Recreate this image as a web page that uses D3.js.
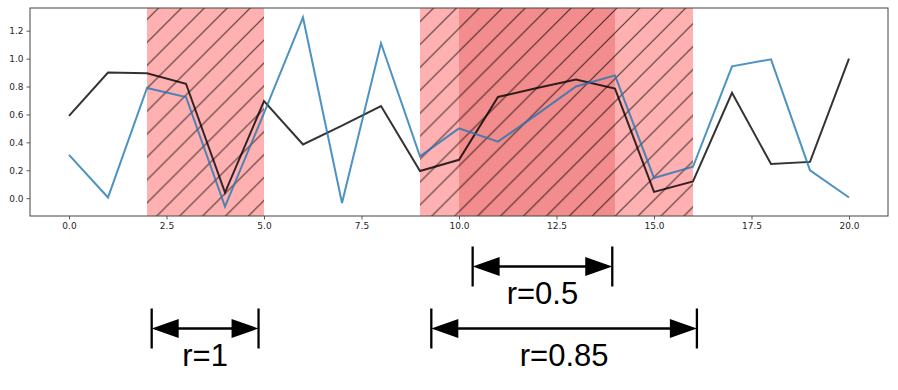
<!DOCTYPE html>
<html>
<head>
<meta charset="utf-8">
<script src="https://cdn.jsdelivr.net/npm/d3@7"></script>
<style>
body { margin: 0; background: #fff; }
</style>
</head>
<body>
<div class="chart"></div>
<script>

// data
const xs     = [0, 1, 2, 3, 4, 5, 6, 7, 8, 9, 10, 11, 12, 13, 14, 15, 16, 17, 18, 19, 20]
const blue   = [0.31, 0.005, 0.79, 0.725, -0.06, 0.61, 1.295, -0.035, 1.11, 0.30, 0.50,
                0.405, 0.60, 0.80, 0.88, 0.145, 0.225, 0.945, 0.995, 0.20, 0.005]
const black  = [0.59, 0.90, 0.895, 0.82, 0.04, 0.695, 0.385, 0.52, 0.66, 0.195, 0.275,
                0.725, 0.79, 0.85, 0.785, 0.045, 0.12, 0.755, 0.245, 0.26, 1.0]

// shaded windows (x units)
const spanStart = [2, 9]
const spanEnd   = [5, 16]
const innerStart = [10]
const innerEnd   = [14]

const xTicks = [0, 2.5, 5, 7.5, 10, 12.5, 15, 17.5, 20]
const yTicks = [0, 0.2, 0.4, 0.6, 0.8, 1.0, 1.2]

// arrows under the axis
const annoLabel = ["r=1", "r=0.5", "r=0.85"]
const annoFrom  = [2.12, 10.35, 9.29]
const annoTo    = [4.86, 13.93, 16.1]
const annoRow   = [1, 0, 1]

var margin = {top: 8, right: 10, bottom: 174, left: 30},
    width = 898 - margin.left - margin.right,
    height = 390 - margin.top - margin.bottom;

var svg = d3.select(".chart")
  .append("svg")
  .attr("width", 898)
  .attr("height", 390)
  .append("g")
  .attr("transform", "translate(" + margin.left + "," + margin.top + ")");

var x = d3.scaleLinear().domain([-1, 21]).range([0, width])

// matplotlib style 5% padding
var lo = d3.min(blue.concat(black)), hi = d3.max(blue.concat(black))
var pad = (hi - lo) * 0.05
var y = d3.scaleLinear().domain([lo - pad, hi + pad]).range([height, 0])

// hatch pattern, anchored to the page
var step = 22.92
var defs = svg.append("defs")
var pat = defs.append("pattern")
  .attr("id", "hatch")
  .attr("patternUnits", "userSpaceOnUse")
  .attr("x", 6.1 - margin.left - margin.top)
  .attr("y", 0)
  .attr("width", step)
  .attr("height", step)
pat.append("path")
  .attr("d", "M0," + step + "L" + step + ",0M-2,2L2,-2M" + (step - 2) + "," + (step + 2) + "L" + (step + 2) + "," + (step - 2))
  .attr("stroke", "#000")
  .attr("stroke-opacity", 0.75)
  .attr("stroke-width", 1)

var spans = spanStart.map((s, i) => ({a: s, b: spanEnd[i]}))
var inner = innerStart.map((s, i) => ({a: s, b: innerEnd[i]}))

svg.selectAll("spanRects")
  .data(spans)
  .enter()
  .append("rect")
    .attr("x", d => x(d.a))
    .attr("width", d => x(d.b) - x(d.a))
    .attr("y", 0)
    .attr("height", height)
    .style("fill", "#ffb1b1")

svg.selectAll("innerRects")
  .data(inner)
  .enter()
  .append("rect")
    .attr("x", d => x(d.a))
    .attr("width", d => x(d.b) - x(d.a))
    .attr("y", 0)
    .attr("height", height)
    .style("fill", "#f38c8c")

svg.selectAll("hatchRects")
  .data(spans)
  .enter()
  .append("rect")
    .attr("x", d => x(d.a))
    .attr("width", d => x(d.b) - x(d.a))
    .attr("y", 0)
    .attr("height", height)
    .style("fill", "url(#hatch)")

var line = d3.line()
  .x((d, i) => x(xs[i]))
  .y(d => y(d))

svg.append("path")
  .datum(black)
  .attr("d", line)
  .attr("fill", "none")
  .attr("stroke", "#000")
  .attr("stroke-opacity", 0.8)
  .attr("stroke-width", 2)

svg.append("path")
  .datum(blue)
  .attr("d", line)
  .attr("fill", "none")
  .attr("stroke", "#1f77b4")
  .attr("stroke-opacity", 0.8)
  .attr("stroke-width", 2)

// axes
svg.append("g")
  .attr("transform", "translate(0," + height + ")")
  .call(d3.axisBottom(x).tickValues(xTicks).tickFormat(d3.format(".1f")).tickSize(3.5).tickPadding(3))
svg.append("g")
  .call(d3.axisLeft(y).tickValues(yTicks).tickFormat(d3.format(".1f")).tickSize(3.5).tickPadding(3))

svg.selectAll(".domain").remove()
svg.selectAll(".tick line").attr("stroke", "#333").attr("stroke-width", 0.8)
svg.selectAll(".tick text")
  .attr("fill", "#262626")
  .style("font-family", "DejaVu Sans")
  .style("font-size", "9px")

svg.append("rect")
  .attr("width", width)
  .attr("height", height)
  .attr("fill", "none")
  .attr("stroke", "#444")
  .attr("stroke-width", 1)

// dimension arrows
var rowY = [266.5 - margin.top, 328.5 - margin.top]
var annos = annoLabel.map((t, i) => ({t: t, a: annoFrom[i], b: annoTo[i], yy: rowY[annoRow[i]]}))
var headL = 27, headH = 9.5, barH = 20

var ag = svg.selectAll("annos")
  .data(annos)
  .enter()
  .append("g")

ag.append("line")
  .attr("x1", d => x(d.a)).attr("x2", d => x(d.a))
  .attr("y1", d => d.yy - barH).attr("y2", d => d.yy + barH)
  .attr("stroke", "#000").attr("stroke-width", 2.3)
ag.append("line")
  .attr("x1", d => x(d.b)).attr("x2", d => x(d.b))
  .attr("y1", d => d.yy - barH).attr("y2", d => d.yy + barH)
  .attr("stroke", "#000").attr("stroke-width", 2.3)
ag.append("line")
  .attr("x1", d => x(d.a) + headL - 2).attr("x2", d => x(d.b) - headL + 2)
  .attr("y1", d => d.yy).attr("y2", d => d.yy)
  .attr("stroke", "#000").attr("stroke-width", 2.5)
ag.append("path")
  .attr("d", d => "M" + x(d.a) + "," + d.yy + "L" + (x(d.a) + headL) + "," + (d.yy - headH) + "L" + (x(d.a) + headL) + "," + (d.yy + headH) + "Z")
  .attr("fill", "#000")
ag.append("path")
  .attr("d", d => "M" + x(d.b) + "," + d.yy + "L" + (x(d.b) - headL) + "," + (d.yy - headH) + "L" + (x(d.b) - headL) + "," + (d.yy + headH) + "Z")
  .attr("fill", "#000")
ag.append("text")
  .attr("x", d => (x(d.a) + x(d.b)) / 2)
  .attr("y", d => d.yy + 37.5)
  .attr("text-anchor", "middle")
  .style("font-family", "Liberation Sans, Arial, sans-serif")
  .style("font-size", "31px")
  .attr("fill", "#000")
  .text(d => d.t)

</script>
</body>
</html>
